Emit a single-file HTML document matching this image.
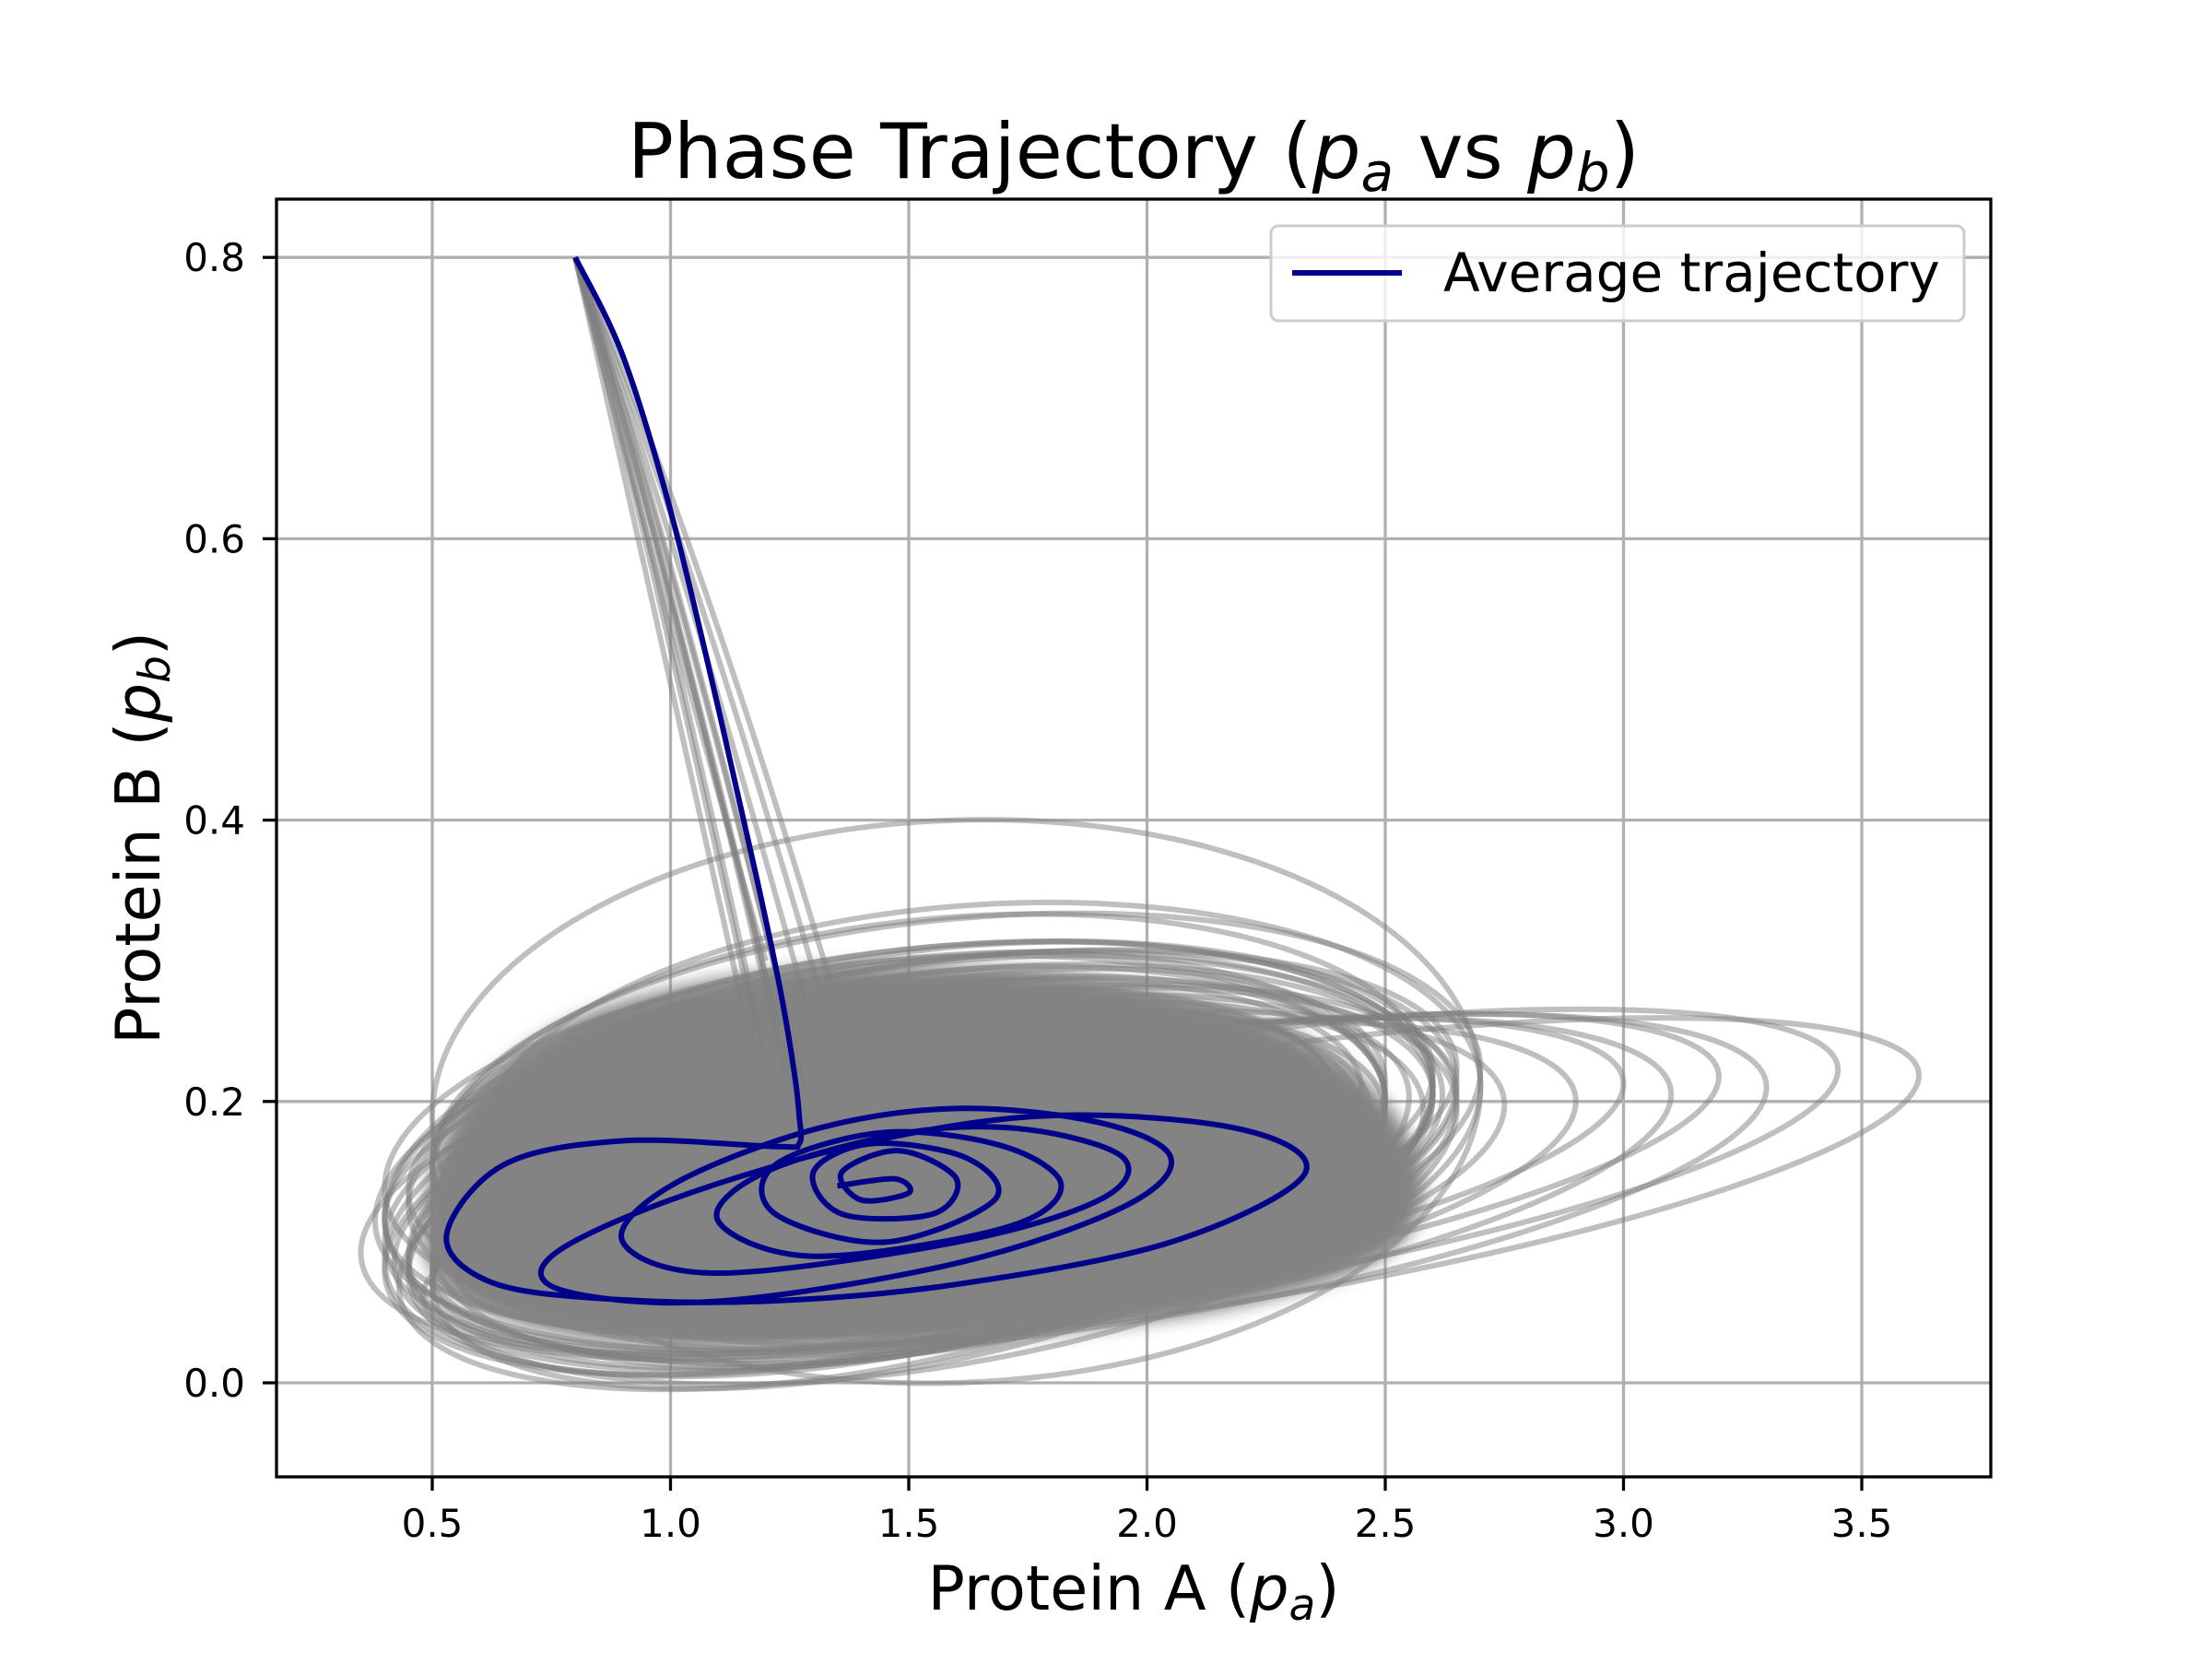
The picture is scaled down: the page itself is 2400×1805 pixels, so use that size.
<!DOCTYPE html>
<html><head><meta charset="utf-8"><style>
body{margin:0;background:#fff}
svg text{font-family:"DejaVu Sans","Liberation Sans",sans-serif}
</style></head><body>
<svg id="chart" width="2400" height="1800" viewBox="0 0 2400 1800" xmlns="http://www.w3.org/2000/svg">
<rect width="2400" height="1800" fill="#fff"/>
<defs><clipPath id="clip"><rect x="300" y="216" width="1860" height="1386"/></clipPath>
<filter id="soft" x="-20%" y="-40%" width="140%" height="180%"><feGaussianBlur stdDeviation="9"/></filter></defs>
<g id="grid"></g>
<g id="plot" clip-path="url(#clip)"></g>
<rect x="300" y="216" width="1860" height="1386" fill="none" stroke="#000" stroke-width="3.3"/>
<g id="ticks"></g>
<text x="1230" y="193" font-size="83" text-anchor="middle">Phase Trajectory (<tspan font-style="italic">p</tspan><tspan font-style="italic" font-size="58" dy="14">a</tspan><tspan dy="-14"> vs </tspan><tspan font-style="italic">p</tspan><tspan font-style="italic" font-size="58" dy="14">b</tspan><tspan dy="-14">)</tspan></text>
<text x="1230" y="1746" font-size="67" text-anchor="middle">Protein A (<tspan font-style="italic">p</tspan><tspan font-style="italic" font-size="47" dy="11">a</tspan><tspan dy="-11">)</tspan></text>
<text transform="translate(173,909) rotate(-90)" font-size="67" text-anchor="middle">Protein B (<tspan font-style="italic">p</tspan><tspan font-style="italic" font-size="47" dy="11">b</tspan><tspan dy="-11">)</tspan></text>
<g>
<rect x="1379" y="245" width="752" height="103" rx="8" fill="#fff" fill-opacity="0.8" stroke="#ccc" stroke-width="3"/>
<line x1="1402" y1="296" x2="1521" y2="296" stroke="#00008b" stroke-width="6"/>
<text x="1566" y="316" font-size="58">Average trajectory</text>
</g>
</svg>
<script>
const xTicks=[0.5,1.0,1.5,2.0,2.5,3.0,3.5];
const xTickLabels=["0.5","1.0","1.5","2.0","2.5","3.0","3.5"];
const yTicks=[0.0,0.2,0.4,0.6,0.8];
const yTickLabels=["0.0","0.2","0.4","0.6","0.8"];
// dense core region of overlapping gray trajectories
const coreX=[0.48,0.55,0.75,1.0,1.3,1.7,2.0,2.3,2.5,2.58,2.5,2.2,1.8,1.4,1.0,0.7,0.52];
const coreY=[0.12,0.19,0.25,0.28,0.295,0.295,0.28,0.25,0.2,0.14,0.09,0.055,0.035,0.025,0.025,0.04,0.07];
// gray loops: centre x, centre y, half-width, half-height, tilt
const loopCx=[1.5,1.45,1.55,1.5,1.6,1.45,1.5,1.55,1.4,1.5,1.6,1.5,1.45,1.55,1.5,1.6,1.45,1.5,1.55,1.65,1.6,2.05,2.0,1.9,1.85,1.8,1.75,1.7,1.6,1.5,1.55,1.45,1.5,1.4,1.55,1.5];
const loopCy=[0.16,0.17,0.18,0.15,0.17,0.14,0.16,0.19,0.15,0.17,0.18,0.14,0.16,0.17,0.15,0.19,0.13,0.16,0.18,0.19,0.2,0.14,0.15,0.14,0.15,0.14,0.15,0.14,0.14,0.14,0.14,0.15,0.13,0.14,0.18,0.16];
const loopRy=[0.12,0.13,0.12,0.13,0.13,0.12,0.13,0.12,0.12,0.11,0.13,0.12,0.14,0.13,0.12,0.14,0.12,0.13,0.15,0.15,0.2,0.09,0.09,0.1,0.09,0.1,0.09,0.1,0.11,0.12,0.13,0.13,0.12,0.12,0.13,0.14];
const loopRx=[1.1,1.05,1.1,1.0,1.05,1.0,1.12,1.05,1.0,0.95,1.0,1.08,1.05,1.1,1.15,1.1,1.02,1.0,1.05,1.05,1.1,1.57,1.45,1.4,1.35,1.3,1.25,1.2,1.15,1.05,1.1,1.05,1.0,1.0,1.05,1.1];
const loopTilt=[0.04,0.03,0.04,0.05,0.03,0.05,0.04,0.03,0.05,0.04,0.03,0.05,0.04,0.04,0.05,0.03,0.06,0.04,0.03,0.02,0.01,0.05,0.05,0.05,0.05,0.05,0.05,0.05,0.05,0.06,0.05,0.06,0.06,0.06,0.03,0.04];
// gray transient curves from the initial condition
const transEndX=[1.15,1.18,1.2,1.22,1.24,1.26,1.28,1.3,1.32,1.34,1.2,1.27];
const transEndY=[0.27,0.25,0.23,0.26,0.22,0.24,0.21,0.25,0.27,0.28,0.3,0.19];
const transCtrlX=[0.92,0.94,0.95,0.96,0.97,0.98,0.99,1.0,1.02,1.04,0.93,0.97];
// average trajectory
const avgX=[0.80,0.90,1.00,1.10,1.18,1.23,1.26,1.27,1.27,1.22,0.9,0.65,0.53,0.62,0.85,1.2,1.6,2.05,2.33,2.2,1.8,1.4,1.0,0.75,0.78,1.1,1.6,1.95,2.05,1.9,1.6,1.3,1.0,0.9,1.1,1.6,1.9,1.95,1.75,1.5,1.2,1.1,1.3,1.7,1.82,1.7,1.45,1.22,1.22,1.45,1.68,1.62,1.42,1.3,1.36,1.55,1.6,1.48,1.36,1.4,1.5,1.47,1.35];
const avgY=[0.80,0.73,0.62,0.48,0.36,0.28,0.22,0.19,0.17,0.168,0.172,0.155,0.105,0.072,0.06,0.058,0.07,0.1,0.148,0.18,0.19,0.17,0.13,0.09,0.065,0.058,0.085,0.125,0.16,0.185,0.195,0.18,0.14,0.1,0.078,0.1,0.13,0.16,0.18,0.178,0.15,0.115,0.09,0.11,0.14,0.168,0.178,0.155,0.12,0.1,0.13,0.16,0.17,0.15,0.12,0.12,0.145,0.165,0.15,0.13,0.135,0.145,0.14];

const X0=469,XU=517,Y0=1500,YU=1526;
const sx=v=>X0+(v-0.5)*XU, sy=v=>Y0-v*YU;
const NS="http://www.w3.org/2000/svg";
function mk(tag,attrs,parent){const e=document.createElementNS(NS,tag);for(const k in attrs)e.setAttribute(k,attrs[k]);parent.appendChild(e);return e;}
function smooth(pts,closed){
  const n=pts.length;let d=`M${pts[0][0].toFixed(1)},${pts[0][1].toFixed(1)}`;
  const g=i=>closed?pts[(i+n)%n]:pts[Math.max(0,Math.min(n-1,i))];
  const m=closed?n:n-1;
  for(let i=0;i<m;i++){const p0=g(i-1),p1=g(i),p2=g(i+1),p3=g(i+2);
    d+=` C${(p1[0]+(p2[0]-p0[0])/6).toFixed(1)},${(p1[1]+(p2[1]-p0[1])/6).toFixed(1)} ${(p2[0]-(p3[0]-p1[0])/6).toFixed(1)},${(p2[1]-(p3[1]-p1[1])/6).toFixed(1)} ${p2[0].toFixed(1)},${p2[1].toFixed(1)}`;}
  return d+(closed?"Z":"");
}
const grid=document.getElementById('grid'),plot=document.getElementById('plot'),ticks=document.getElementById('ticks');
xTicks.forEach((v,i)=>{
  const l=mk('line',{x1:sx(v),x2:sx(v),y1:216,y2:1602,stroke:'#b0b0b0','stroke-width':3.3},grid);
  
  
  const t=mk('line',{x1:sx(v),x2:sx(v),y1:1602,y2:1617,stroke:'#000','stroke-width':3.3},ticks);
  
  
  const tx=mk('text',{x:sx(v),y:1667,'font-size':42,'text-anchor':'middle'},ticks);
  tx.textContent=xTickLabels[i];
  
  
});
yTicks.forEach((v,i)=>{
  const l=mk('line',{x1:300,x2:2160,y1:sy(v),y2:sy(v),stroke:'#b0b0b0','stroke-width':3.3},grid);
  
  
  const t=mk('line',{x1:285,x2:300,y1:sy(v),y2:sy(v),stroke:'#000','stroke-width':3.3},ticks);
  
  
  const tx=mk('text',{x:266,y:sy(v)+15,'font-size':42,'text-anchor':'end'},ticks);
  tx.textContent=yTickLabels[i];
  
  
});
loopCx.forEach((cx,i)=>{
  const pts=[];for(let k=0;k<24;k++){const a=k/24*2*Math.PI;const x=cx+loopRx[i]*Math.cos(a);const y=loopCy[i]+loopRy[i]*Math.sin(a)+loopTilt[i]*(x-cx);pts.push([sx(x),sy(y)]);}
  const p=mk('path',{d:smooth(pts,true),fill:'none',stroke:'#808080','stroke-opacity':0.5,'stroke-width':6},plot);
  
  
});
const core=mk('path',{d:smooth(coreX.map((x,i)=>[sx(x),sy(coreY[i])]),true),fill:'#838383',filter:'url(#soft)'},plot);


transEndX.forEach((ex,i)=>{
  const p=mk('path',{d:`M${sx(0.8)},${sy(0.8)} Q${sx(transCtrlX[i])},${sy(0.62)} ${sx(ex)},${sy(transEndY[i])}`,fill:'none',stroke:'#808080','stroke-opacity':0.5,'stroke-width':6},plot);
  
  
});
const avg=mk('path',{d:smooth(avgX.map((x,i)=>[sx(x),sy(avgY[i])]),false),fill:'none',stroke:'#00008b','stroke-width':6,'stroke-linejoin':'round'},plot);


</script>
</body></html>
